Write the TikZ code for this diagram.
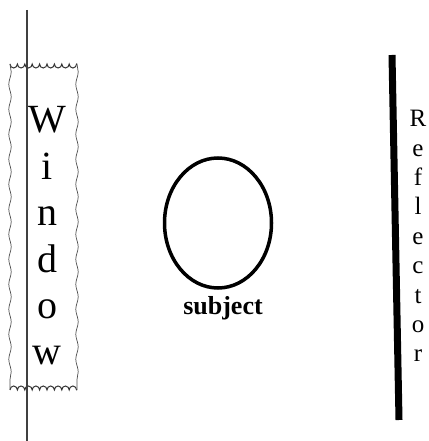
\documentclass[tikz,border=0pt]{standalone}
\usepackage{fontspec}
\setmainfont{Liberation Serif}
\usetikzlibrary{decorations.pathmorphing,shapes.geometric}
\tikzset{
  pole/.style={draw=black!75, line width=1.4pt},
  teeth/.style={draw=black!80, line width=1pt, decorate, decoration={bumps, segment length=14.8pt, amplitude=4pt}},
  teethdown/.style={teeth, decoration={mirror}},
  wavy/.style={draw=black!70, line width=0.7pt, decorate, decoration={snake, segment length=25pt, amplitude=1.2pt}},
  reflector/.style={draw=black, line width=7pt},
  subj/.style={draw=black, line width=3.5pt},
  vword/.style={align=center, inner sep=0pt},
}
\begin{document}
\begin{tikzpicture}[x=1pt, y=1pt]
\useasboundingbox (0,0) rectangle (428,441);
% window frame
\coordinate (wtl) at (10,377);
\coordinate (wtr) at (77,377);
\coordinate (wbl) at (10,51);
\coordinate (wbr) at (77,51);
\draw[teethdown] (wtl) -- (wtr);
\draw[teeth] (wbl) -- (wbr);
\draw[wavy] (wtl) -- (wbl);
\draw[wavy] (wtr) -- (wbr);
% pole through the window
\coordinate (pt) at (27,431);
\coordinate (pb) at (27,0);
\draw[pole] (pt) -- (pb);
% window label
\node[vword, anchor=base, font=\fontsize{40}{46.4}\selectfont] (win) at (47,76) {W\\i\\n\\d\\o\\w};
% subject
\node[subj, ellipse, minimum width=107pt, minimum height=130pt, inner sep=0pt] (subject) at (218,218) {};
\node[inner sep=0pt, anchor=base, font=\fontsize{26}{30}\selectfont\bfseries] (subjlabel) at (223,126) {subject};
% reflector
\coordinate (rt) at (392,386);
\coordinate (rb) at (399,21);
\draw[reflector] (rt) -- (rb);
\node[vword, anchor=base, font=\fontsize{25}{29.4}\selectfont] (refl) at (418,79) {R\\e\\f\\l\\e\\c\\t\\o\\r};
\end{tikzpicture}
\end{document}
